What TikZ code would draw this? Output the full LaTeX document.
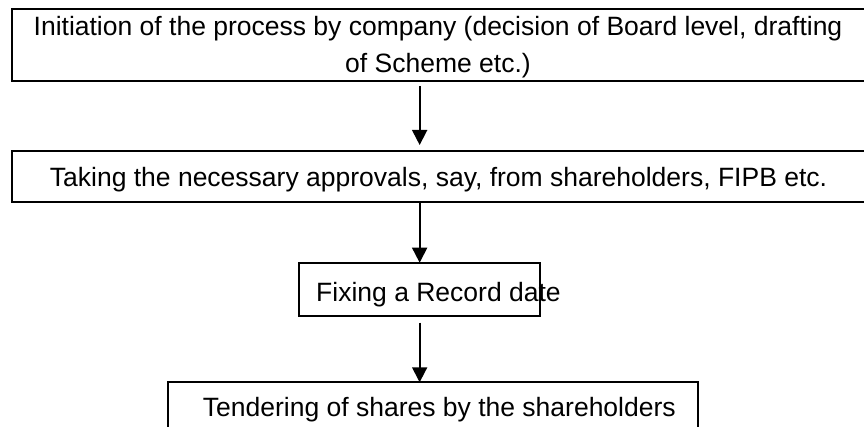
\documentclass[tikz,border=0pt]{standalone}
\usepackage{fontspec}
\setmainfont{Liberation Sans}
\usetikzlibrary{arrows.meta}
\begin{document}
\begin{tikzpicture}[x=1pt,y=-1pt,
  box/.style={draw, line width=1.8pt, inner sep=0pt, outer sep=0pt},
  lbl/.style={anchor=base, inner sep=0pt, font=\fontsize{26.5pt}{32pt}\selectfont},
  arr/.style={line width=1.8pt, -{Triangle[length=15pt,width=15pt]}}]
\fill[white] (0,0) rectangle (864,427);
\useasboundingbox (0,0) rectangle (864,427);

% process boxes (the first two run past the right margin, the last past the bottom)
\node[box, minimum width=856.3pt, minimum height=71.7pt] (b1) at (439.85,45.15) {};
\node[box, minimum width=856.3pt, minimum height=50.7pt] (b2) at (439.85,176.35) {};
\node[box, minimum width=240.7pt, minimum height=53pt] (b3) at (419.65,289.2) {};
\node[box, minimum width=529.7pt, minimum height=60pt] (b4) at (433.15,412.3) {};

% step texts
\node[lbl] (t1a) at (438,36) {Initiation of the process by company (decision of Board level, drafting};
\node[lbl] (t1b) at (438,73) {of Scheme etc.)};
\node[lbl] (t2) at (438.5,187) {Taking the necessary approvals, say, from shareholders, FIPB etc.};
\node[lbl] (t3) at (438.5,301.7) {Fixing a Record date};
\node[lbl] (t4) at (439.3,416.7) {Tendering of shares by the shareholders};

% flow arrows
\draw[arr, shorten <=5pt, shorten >=6pt] (b1.south -| b3.north) -- (b2.north -| b3.north);
\draw[arr] (b2.south -| b3.north) -- (b3.north);
\draw[arr, shorten <=7pt] (b3.south) -- (b3.south |- b4.north);
\end{tikzpicture}
\end{document}
